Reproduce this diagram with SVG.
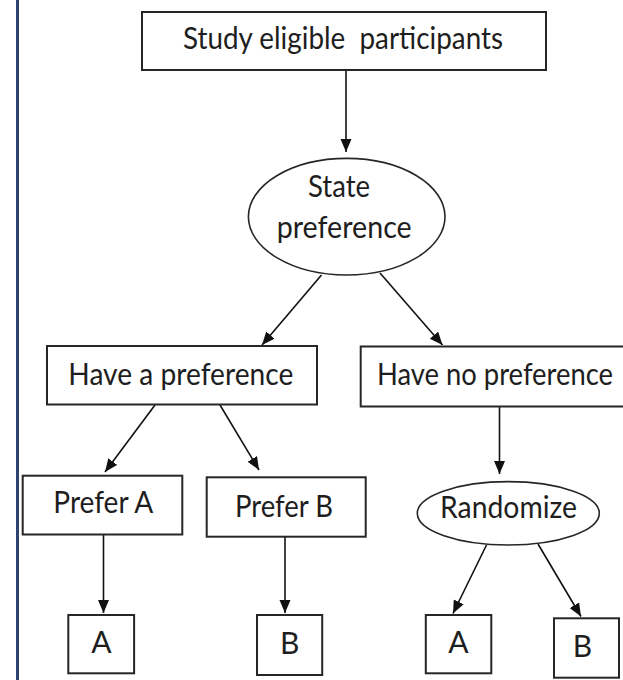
<svg xmlns="http://www.w3.org/2000/svg" width="623" height="680" viewBox="0 0 623 680">
  <style>
    .box { fill: #ffffff; stroke: #262626; stroke-width: 2; }
    .oval { fill: #ffffff; stroke: #262626; stroke-width: 1.6; }
    .lbl { font-family: Lato, "Open Sans", "Liberation Sans", sans-serif; font-size: 30px; fill: #1e1e1e; }
    .mid { text-anchor: middle; }
    .edge { stroke: #111111; stroke-width: 1.6; fill: none; marker-end: url(#arrow); }
  </style>
  <defs>
    <marker id="arrow" markerUnits="userSpaceOnUse" markerWidth="14" markerHeight="12" refX="13" refY="5.5" orient="auto">
      <path d="M0,0 L13,5.5 L0,11 Z" fill="#111111"/>
    </marker>
  </defs>

  <rect x="0" y="0" width="623" height="680" fill="#ffffff"/>
  <!-- page margin rule -->
  <line x1="17.5" y1="0" x2="17.5" y2="680" stroke="#2d4373" stroke-width="3"/>

  <g id="connectors">
    <line class="edge" x1="346" y1="70" x2="346" y2="152"/>
    <line class="edge" x1="321.5" y1="275" x2="262" y2="345"/>
    <line class="edge" x1="380" y1="273" x2="442.5" y2="345"/>
    <line class="edge" x1="155" y1="405" x2="105" y2="472"/>
    <line class="edge" x1="220" y1="405" x2="259" y2="470"/>
    <line class="edge" x1="499.5" y1="407" x2="499.5" y2="474"/>
    <line class="edge" x1="103.5" y1="535" x2="103.5" y2="613"/>
    <line class="edge" x1="285" y1="537" x2="285" y2="613"/>
    <line class="edge" x1="486.5" y1="545" x2="453" y2="613.5"/>
    <line class="edge" x1="538" y1="544" x2="581" y2="616.5"/>
  </g>

  <g id="eligible">
    <rect class="box" x="142" y="12" width="404" height="58"/>
    <text class="lbl" x="183" y="48.5" textLength="320" lengthAdjust="spacingAndGlyphs" xml:space="preserve">Study eligible  participants</text>
  </g>

  <g id="state-preference">
    <ellipse class="oval" cx="346.7" cy="216.7" rx="98.3" ry="58.3"/>
    <text class="lbl" x="308" y="196.7" textLength="62" lengthAdjust="spacingAndGlyphs">State</text>
    <text class="lbl" x="276.7" y="238.3" textLength="135" lengthAdjust="spacingAndGlyphs">preference</text>
  </g>

  <g id="have-preference">
    <rect class="box" x="47" y="346" width="270" height="58.5"/>
    <text class="lbl" x="68.3" y="384.5" textLength="225" lengthAdjust="spacingAndGlyphs">Have a preference</text>
  </g>

  <g id="no-preference">
    <!-- box runs off the right margin, so its right side is not drawn -->
    <path class="box" d="M623,346.5 H360.7 V406.5 H623"/>
    <text class="lbl" x="377" y="384.5" textLength="236" lengthAdjust="spacingAndGlyphs">Have no preference</text>
  </g>

  <g id="prefer-a">
    <rect class="box" x="22.7" y="475.7" width="159.6" height="58.8"/>
    <text class="lbl" x="53.3" y="513.3" textLength="100" lengthAdjust="spacingAndGlyphs">Prefer A</text>
  </g>

  <g id="prefer-b">
    <rect class="box" x="206.7" y="477.3" width="159" height="59.4"/>
    <text class="lbl" x="235" y="517.3" textLength="98" lengthAdjust="spacingAndGlyphs">Prefer B</text>
  </g>

  <g id="randomize">
    <ellipse class="oval" cx="508.3" cy="513.3" rx="91" ry="31.7"/>
    <text class="lbl" x="440" y="518.3" textLength="137" lengthAdjust="spacingAndGlyphs">Randomize</text>
  </g>

  <g id="treat-a-preferred">
    <rect class="box" x="68.3" y="615" width="65.8" height="58.3"/>
    <text class="lbl mid" x="101.5" y="653.3">A</text>
  </g>

  <g id="treat-b-preferred">
    <rect class="box" x="257" y="615" width="65.2" height="60"/>
    <text class="lbl mid" x="289.7" y="653.5">B</text>
  </g>

  <g id="treat-a-random">
    <rect class="box" x="425.8" y="615" width="65.5" height="58.3"/>
    <text class="lbl mid" x="458.3" y="653">A</text>
  </g>

  <g id="treat-b-random">
    <rect class="box" x="554" y="618.3" width="65" height="59.4"/>
    <text class="lbl mid" x="582.5" y="657.3">B</text>
  </g>
</svg>
